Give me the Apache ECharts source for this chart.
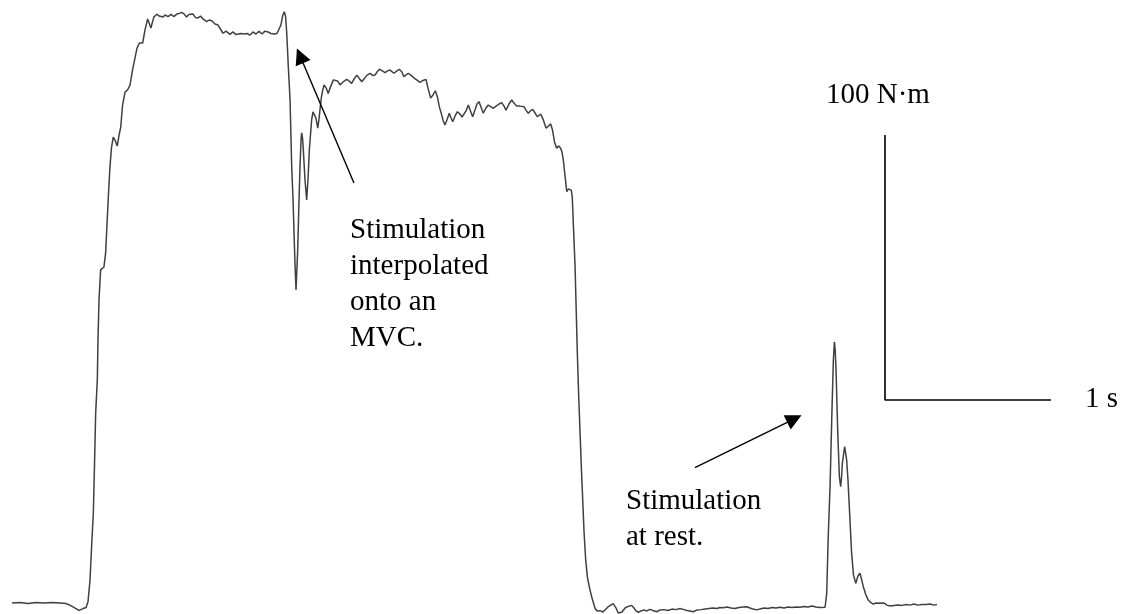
<!DOCTYPE html>
<html>
<head>
<meta charset="utf-8">
<script src="https://cdn.jsdelivr.net/npm/echarts@6/dist/echarts.min.js"></script>
<style>
html,body{margin:0;padding:0;background:#fff;}
#chart{width:1126px;height:614px;}
</style>
</head>
<body>
<div id="chart"></div>
<script>
// Torque trace: time (s) and torque (N·m)
const timeS = [0,0.048,0.096,0.145,0.193,0.241,0.289,0.325,0.349,0.380,0.404,0.428,0.446,0.458,0.470,0.480,0.490,0.497,0.504,0.514,0.518,0.524,0.534,0.542,0.554,0.564,0.572,0.581,0.590,0.599,0.610,0.620,0.634,0.645,0.655,0.666,0.681,0.696,0.711,0.726,0.741,0.753,0.767,0.777,0.787,0.801,0.817,0.828,0.837,0.846,0.855,0.872,0.886,0.898,0.910,0.922,0.940,0.958,0.976,0.994,1.009,1.022,1.036,1.051,1.066,1.078,1.090,1.105,1.120,1.136,1.151,1.173,1.187,1.205,1.223,1.241,1.253,1.271,1.289,1.301,1.313,1.331,1.349,1.361,1.380,1.398,1.416,1.434,1.452,1.470,1.488,1.506,1.524,1.542,1.560,1.578,1.596,1.608,1.620,1.630,1.640,1.648,1.655,1.664,1.675,1.685,1.693,1.699,1.705,1.711,1.716,1.721,1.729,1.735,1.741,1.745,1.750,1.755,1.765,1.775,1.783,1.791,1.805,1.813,1.821,1.831,1.842,1.849,1.855,1.864,1.872,1.880,1.886,1.895,1.905,1.916,1.936,1.946,1.961,1.976,1.994,2.016,2.030,2.046,2.060,2.077,2.090,2.107,2.120,2.139,2.157,2.172,2.187,2.199,2.213,2.229,2.247,2.262,2.277,2.289,2.301,2.319,2.333,2.349,2.361,2.373,2.387,2.404,2.422,2.438,2.458,2.476,2.494,2.506,2.522,2.536,2.550,2.563,2.574,2.587,2.598,2.608,2.620,2.634,2.645,2.655,2.669,2.683,2.699,2.711,2.723,2.735,2.749,2.762,2.775,2.789,2.801,2.813,2.825,2.839,2.855,2.869,2.886,2.899,2.916,2.934,2.950,2.964,2.976,2.994,3.010,3.024,3.040,3.060,3.084,3.096,3.110,3.123,3.137,3.151,3.164,3.185,3.199,3.217,3.232,3.245,3.256,3.268,3.281,3.292,3.305,3.313,3.321,3.331,3.342,3.351,3.361,3.369,3.375,3.383,3.392,3.398,3.405,3.413,3.422,3.430,3.438,3.446,3.456,3.467,3.482,3.494,3.512,3.524,3.542,3.560,3.572,3.590,3.602,3.622,3.639,3.652,3.663,3.675,3.693,3.711,3.733,3.747,3.759,3.773,3.789,3.807,3.825,3.843,3.861,3.884,3.904,3.928,3.952,3.976,4.000,4.024,4.044,4.066,4.084,4.104,4.127,4.151,4.175,4.199,4.223,4.247,4.265,4.285,4.307,4.331,4.355,4.380,4.404,4.426,4.446,4.464,4.486,4.506,4.530,4.554,4.578,4.602,4.627,4.651,4.675,4.699,4.723,4.747,4.771,4.795,4.819,4.843,4.867,4.898,4.908,4.917,4.928,4.938,4.948,4.954,4.959,4.964,4.974,4.984,4.992,4.997,5.002,5.016,5.028,5.036,5.044,5.058,5.069,5.083,5.096,5.108,5.119,5.128,5.142,5.158,5.172,5.188,5.205,5.229,5.253,5.271,5.289,5.313,5.337,5.361,5.386,5.410,5.434,5.458,5.482,5.506,5.530,5.554,5.572];
const torqueNm = [0,0.2,-0.2,0.2,0,0.2,0,-0.2,-0.8,-1.9,-2.8,-2.1,-1.7,0.6,8.7,21.9,34.0,52.1,71.7,84.2,99.2,114.3,125.7,125.7,126.8,132.1,142.6,154.0,164.5,171.7,175.8,174.7,172.5,176.6,179.6,187.9,192.8,193.6,195.5,201.1,205.7,209.4,211.3,210.9,211.3,216.2,220.4,218.5,217.0,219.2,221.1,222.2,221.5,221.9,221.1,221.9,221.3,222.1,221.3,222.3,222.5,222.9,222.3,221.1,222.1,222.5,222.3,220.9,220.8,221.5,220.4,219.4,220.0,219.6,218.5,218.1,218.5,215.0,215.8,215.1,214.6,215.5,214.5,214.7,214.9,214.7,214.9,214.3,215.5,214.7,215.7,214.7,215.8,215.5,214.9,214.7,214.9,215.1,218.1,221.5,223.1,221.5,215.1,203.0,189.8,164.5,152.1,139.6,127.5,118.1,117.4,133.2,152.1,164.5,174.7,177.4,175.5,170.9,159.6,152.1,159.6,170.9,182.3,185.3,186.0,183.0,179.2,182.3,186.0,190.9,193.6,195.5,195.8,194.0,192.3,194.3,197.4,198.0,197.0,195.5,196.6,197.6,197.0,196.1,197.7,199.2,198.1,196.7,197.7,199.2,199.9,199.1,199.2,200.4,201.4,200.9,200.1,200.8,201.1,200.4,199.9,200.8,201.4,200.4,198.6,199.2,199.9,199.1,198.1,197.4,196.5,197.2,197.6,194.3,190.5,191.7,193.3,190.9,187.3,184.5,181.9,180.4,182.3,184.8,183.0,181.6,183.8,185.4,184.5,183.4,182.9,185.7,187.9,185.7,183.5,186.0,188.3,189.2,187.2,184.8,186.8,187.9,187.2,186.7,187.5,188.3,188.8,187.5,186.0,188.3,189.8,188.7,187.5,187.5,187.3,186.0,184.8,185.7,186.3,184.9,183.5,184.5,182.6,179.2,180.0,180.8,178.5,174.0,171.6,172.5,171.6,170.2,167.2,161.5,155.2,156.2,156.5,155.8,153.3,140.8,126.9,112.5,95.5,79.6,64.2,50.9,38.9,26.8,16.2,9.4,4.9,1.9,-2.0,-3.0,-2.9,-3.4,-3.3,-1.5,-1.1,-0.2,-1.9,-3.8,-3.8,-3.4,-1.9,-1.3,-0.9,-1.9,-3.0,-3.5,-3.0,-2.6,-3.0,-2.4,-2.8,-3.3,-2.6,-2.5,-2.8,-2.3,-2.5,-2.1,-2.4,-2.8,-3.0,-3.3,-2.6,-2.5,-2.3,-2.1,-1.9,-2.1,-1.7,-1.8,-1.5,-1.9,-2.1,-1.7,-1.5,-1.4,-1.9,-2.3,-2.6,-2.3,-1.9,-2.1,-1.7,-1.9,-1.6,-1.9,-1.5,-1.7,-1.5,-1.6,-1.3,-1.5,-1.1,-1.5,-1.7,-1.6,3.7,25.0,43.9,69.1,91.7,98.6,95.5,87.9,65.3,47.7,43.9,47.2,52.7,59.0,54.0,46.4,36.3,18.8,10.6,7.4,10.2,11.2,8.7,6.2,3.4,1.1,0.2,-0.4,0,-0.1,0,-0.8,-1.1,-0.9,-0.8,-0.9,-0.6,-0.8,-0.4,-0.8,-0.6,-0.6,-0.4,-0.8,-0.6];

// Scale bar: 100 N·m (vertical) and 1 s (horizontal)
const scaleBarTime = [5.259, 5.259, 6.259];
const scaleBarTorque = [176.6, 76.6, 76.6];
const scaleLabels = ['100 N\u00b7m', '1 s'];

// Annotation arrows (tail -> head), in time / torque
const arrowTailTime = [2.060, 4.114];
const arrowTailTorque = [158.5, 51.1];
const arrowHeadTime = [1.735, 4.713];
const arrowHeadTorque = [206.5, 69.5];

// Annotation text
const annot1 = ['Stimulation', 'interpolated', 'onto an', 'MVC.'];
const annot2 = ['Stimulation', 'at rest.'];

const n = Math.min(timeS.length, torqueNm.length);
const trace = [];
for (let i = 0; i < n; i++) trace.push([timeS[i], torqueNm[i]]);
const bar = scaleBarTime.map((t, i) => [t, scaleBarTorque[i]]);
const arrows = arrowTailTime.map((t, i) => ({
  coords: [[t, arrowTailTorque[i]], [arrowHeadTime[i], arrowHeadTorque[i]]]
}));

const FONT = "'Liberation Serif','Times New Roman',serif";
const txt = (s, x, y) => ({
  type: 'text', left: x, top: y,
  style: { text: s, font: '29px ' + FONT, fill: '#000', verticalAlign: 'top' }
});
const graphics = [];
annot1.forEach((s, i) => graphics.push(txt(s, 350, 216 + i * 36)));
annot2.forEach((s, i) => graphics.push(txt(s, 626, 487 + i * 36)));
graphics.push(txt(scaleLabels[0], 826, 81));
graphics.push(txt(scaleLabels[1], 1085, 385));
if (timeS.length !== torqueNm.length) {
  graphics.push(txt('LEN ' + timeS.length + ' / ' + torqueNm.length, 10, 10));
}

const chart = echarts.init(document.getElementById('chart'), null, { renderer: 'canvas' });
chart.setOption({
  animation: false,
  backgroundColor: '#fff',
  grid: { left: 0, right: 0, top: 0, bottom: 0, containLabel: false },
  xAxis: { type: 'value', min: -0.0723, max: 6.7108, show: false },
  yAxis: { type: 'value', min: -4.151, max: 227.547, show: false },
  series: [
    {
      type: 'line', data: trace, showSymbol: false, symbol: 'none',
      lineStyle: { color: '#404040', width: 1.5 }, z: 2
    },
    {
      type: 'line', data: bar, showSymbol: false, symbol: 'none',
      lineStyle: { color: '#000', width: 1.6 }, z: 3
    },
    {
      type: 'lines', coordinateSystem: 'cartesian2d', data: arrows,
      symbol: ['none', 'triangle'], symbolSize: [11, 16],
      lineStyle: { color: '#000', width: 1.4, opacity: 1 },
      itemStyle: { color: '#000' }, z: 4
    }
  ],
  graphic: graphics
});
</script>
</body>
</html>
